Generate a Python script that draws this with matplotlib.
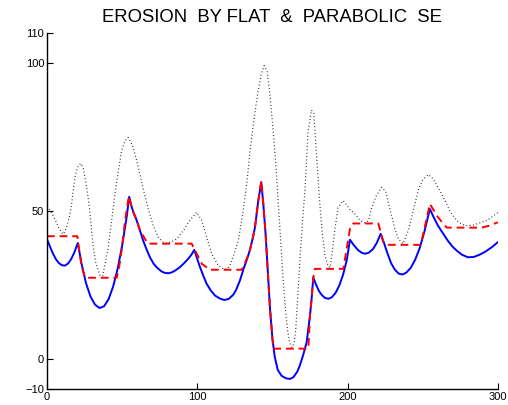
import numpy as np
import matplotlib.pyplot as plt

plt.rcParams['font.family'] = ['Liberation Sans', 'DejaVu Sans']

# original signal (dotted)
f_x = [0, 2, 4, 6, 8, 10, 11, 13, 14.9, 16.4, 17.5, 18.6, 20.2, 22.4, 24.2, 26.4,
       28.2, 29.7, 30.8, 32.6, 35.3, 37, 38.6, 40.8, 43, 45.2, 47.5, 49.7, 51.9, 54,
       57, 59.7, 62, 64, 67.4, 70.7, 74, 77, 79.6, 83, 86.3, 90.7, 95, 99.6, 103,
       106.2, 109.6, 114, 118, 120, 122, 124.5, 127.3, 130.6, 133, 135, 137.5, 140,
       142.5, 144.5, 146.5, 148, 150, 151.8, 153, 154.2, 155.5, 157, 158.5, 160,
       161.5, 163, 164.5, 165.5, 167, 168.5, 170, 171.7, 173.7, 176, 177.5, 179.4,
       181.6, 183.3, 185, 187, 188.5, 190, 191.6, 193.6, 197, 199.5, 201.6, 204,
       206, 208, 210, 212, 214, 216, 219, 222.7, 225.5, 228, 231.5, 233.7, 237,
       240.4, 243.7, 247, 250, 253.7, 257, 259.5, 262.6, 265.5, 268, 272.6, 276,
       279, 284, 288, 292.5, 296, 300]
f_y = [51.5, 50.3, 48.5, 46.5, 44.2, 42.6, 42.2, 44.5, 48, 52.4, 57, 61.4, 64.7, 66,
       64.2, 58, 51.3, 43.4, 37.8, 32.2, 28.3, 28, 32.2, 37.8, 46.8, 55.8, 63.6,
       70.4, 73.7, 74.8, 72, 67, 62, 57.5, 50.7, 45, 41.2, 39.6, 39.2, 39.6, 40.6,
       43.4, 46.8, 49.6, 46.8, 41.2, 35.6, 31.6, 30.3, 30.5, 32, 35.5, 40, 50.2,
       59.5, 69.8, 80, 89, 96, 99, 97, 91, 80, 69, 60, 50, 40, 28, 18, 10, 5.5, 4,
       5.5, 10, 22, 35, 46, 57.5, 76.5, 84, 83, 68.7, 52, 42, 35, 31.5, 31, 37, 44,
       51, 53.5, 52, 50.5, 49.5, 48.3, 47, 46.2, 46, 47, 51, 55, 58, 56.5, 51, 44,
       40.6, 39, 43.4, 50, 57, 60.5, 62.3, 60.8, 58.5, 55.8, 52.8, 50, 46.8, 45.6,
       45, 45.3, 46, 46.8, 48, 49.5]

# flat erosion (dashed red)
flat_x = [0, 20.2, 21.5, 23, 25.3, 46.4, 48, 50, 52, 54.5, 56, 58, 60, 61.9, 65.2,
          67, 96.3, 99.6, 103, 108.5, 127.3, 129.5, 131, 133, 135, 137, 138.4,
          140.6, 142.6, 144, 145.5, 147, 148.4, 150.6, 173.9, 175, 176, 177.2,
          178.3, 197.2, 199.4, 201.6, 203.8, 220.5, 223.8, 227, 248.6, 250, 252,
          254.8, 257, 259.3, 263.7, 266, 289.2, 294.7, 300]
flat_y = [41.5, 41.5, 36.5, 31.5, 27.5, 27.5, 31, 38, 47, 55, 52, 49, 46.5, 43.4,
          40.6, 39, 39, 35.6, 32.2, 30.2, 30.2, 30.2, 31.5, 34, 36.8, 41, 44.5,
          53.5, 60.2, 52, 42, 29, 17, 3.6, 3.6, 14.8, 20, 27.6, 30.5, 30.5, 37.3,
          44, 45.8, 45.8, 39.5, 38.6, 38.6, 41.5, 46, 52.4, 50.5, 48.5, 45.7, 44.4,
          44.4, 45.1, 46.2]

# parabolic erosion (solid blue)
para_x = [0, 2, 4, 6, 8, 10, 12, 14, 16, 18, 20.5, 23, 26, 29, 32, 35, 38, 41,
          44, 47, 50, 53, 54.7, 56, 57.5, 59.7, 62, 64, 66, 68.5, 71, 73, 76, 78,
          80.7, 83, 85.5, 88.5, 91, 94, 96, 98, 100, 101.8, 104, 106.2, 109, 111.8,
          115, 118, 121, 124, 126, 128.4, 131, 133, 135, 137, 138.4, 140.6, 142.6,
          144, 145.5, 147, 148.4, 150, 151.5, 153.5, 156, 159, 161.7, 164, 166.5,
          168.3, 170.5, 172.8, 175, 176, 177.2, 179, 181, 183, 185, 187.2, 189.5,
          192, 194.5, 197, 199.5, 201.6, 204, 207, 209.5, 211.6, 214, 217, 219.5,
          222, 224, 226.5, 229, 231.5, 234, 236.6, 239, 242, 245, 248, 251, 254.8,
          257, 260, 263.7, 267, 270, 273, 276, 280, 284, 288, 292, 296, 300]
para_y = [40.5, 38, 35.6, 33.7, 32.4, 31.7, 31.6, 32.3, 33.7, 35.8, 39.2, 32.2,
          25.6, 21.1, 18.4, 17.3, 17.9, 20.3, 24.5, 30.5, 38.3, 47.9, 54.8, 52,
          49.5, 46.8, 43.2, 40, 37.4, 34.4, 32.2, 31, 29.7, 29.2, 29, 29.3, 30,
          31.1, 32.3, 33.9, 35.2, 36.9, 33.8, 31.1, 28.2, 25.5, 23.2, 21.5, 20.5,
          20, 20.4, 21.8, 23.6, 26.6, 30.8, 33.6, 36.8, 41, 44.5, 53.5, 59.7, 52,
          42, 29, 17, 7, 1, -3.5, -5.5, -6.4, -6.6, -6, -4.2, -2, 1.5, 5.8, 14.8,
          20, 27.6, 25.2, 23, 21.6, 20.7, 20.4, 20.9, 22.4, 24.9, 28.5, 33.5, 40.3,
          38.6, 36.8, 35.9, 35.6, 35.9, 37.2, 39.3, 42.3, 39.6, 35.8, 32.4, 30.2,
          28.9, 28.6, 29.2, 30.8, 33.6, 37.5, 42.8, 50.7, 48.2, 45.2, 42.3, 39.8,
          37.9, 36.5, 35.3, 34.4, 34.5, 35.3, 36.4, 37.8, 39.5]

x_ticks = [0, 100, 200, 300]
y_ticks = [-10, 0, 50, 100, 110]

fig = plt.figure(figsize=(5.08, 4.05), dpi=100)
ax = fig.add_axes([0.0925, 0.0395, 0.8875, 0.879])

ax.plot(f_x, f_y, color='#222222', linestyle=(0, (0.7, 2.0)), linewidth=0.9)
ax.plot(para_x, para_y, color='#0000ff', linewidth=1.4)
ax.plot(flat_x, flat_y, color='#ff0000', linestyle=(0, (4, 2.5)), linewidth=1.4)

ax.set_xlim(0, 300)
ax.set_ylim(-10, 110)
ax.set_xticks(x_ticks)
ax.set_yticks(y_ticks)
ax.tick_params(direction='in', length=4, width=0.8, labelsize=8, pad=2)
for side in ['top', 'right']:
    ax.spines[side].set_visible(False)
for side in ['left', 'bottom']:
    ax.spines[side].set_linewidth(1.0)

fig.text(0.536, 0.957, 'EROSION  BY FLAT  &  PARABOLIC  SE', ha='center',
         va='center', fontsize=13.3)

fig.savefig('out.png', dpi=100)
